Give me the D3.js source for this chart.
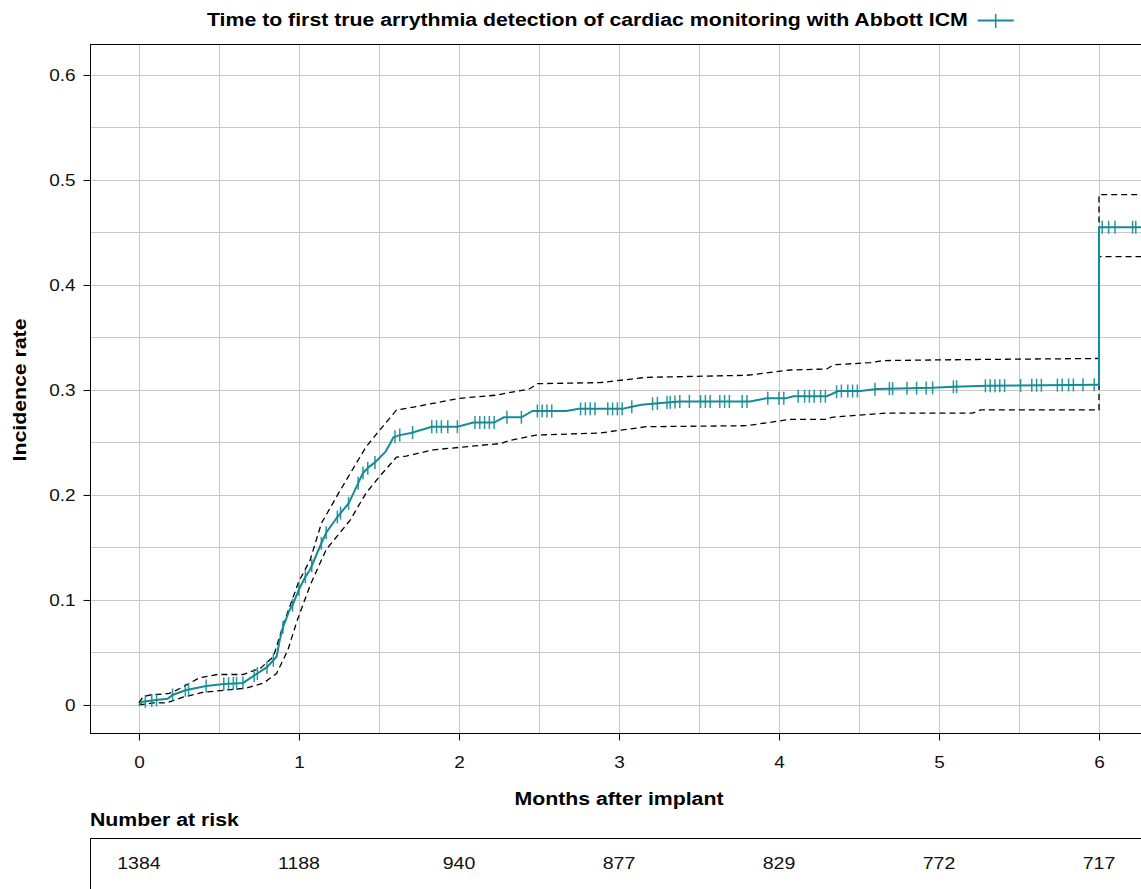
<!DOCTYPE html>
<html>
<head>
<meta charset="utf-8">
<script src="https://cdn.jsdelivr.net/npm/d3@7"></script>
<style>
  body { margin: 0; background: #fff; }
  svg { font-family: "Liberation Sans", Arial, sans-serif; display: block; }
</style>
</head>
<body>
<div id="chart"></div>
<script>
// curve: [months, incidence]
var curve = [[0,0],[0.02,0.003],[0.12,0.005],[0.18,0.006],[0.21,0.0095],[0.29,0.014],[0.42,0.018],[0.53,0.020],
  [0.65,0.021],[0.71,0.027],[0.8,0.036],[0.86,0.046],[0.88,0.062],[0.9,0.074],[0.94,0.09],[0.96,0.095],[1.0,0.110],
  [1.04,0.122],[1.07,0.129],[1.14,0.154],[1.17,0.164],[1.24,0.179],[1.31,0.192],[1.36,0.208],[1.4,0.221],[1.44,0.227],
  [1.475,0.231],[1.54,0.241],[1.57,0.249],[1.59,0.255],[1.63,0.257],[1.7,0.259],[1.83,0.265],[1.99,0.265],[2.09,0.269],
  [2.22,0.269],[2.28,0.274],[2.39,0.274],[2.46,0.280],[2.67,0.280],[2.75,0.282],[3.02,0.282],[3.08,0.284],[3.14,0.286],
  [3.3,0.288],[3.38,0.289],[3.82,0.289],[3.92,0.292],[4.04,0.292],[4.09,0.294],[4.3,0.294],[4.37,0.299],[4.51,0.299],
  [4.61,0.301],[4.96,0.302],[5.09,0.303],[5.3,0.304],[5.99,0.305],[6.0,0.305],[6.0,0.455],[6.4,0.455]];

var upperCI = [[0,0.002],[0.025,0.0076],[0.07,0.0095],[0.19,0.011],[0.26,0.016],[0.38,0.026],[0.49,0.029],[0.65,0.029],
  [0.76,0.035],[0.84,0.046],[0.91,0.08],[1.0,0.118],[1.07,0.138],[1.14,0.173],[1.26,0.205],[1.42,0.246],[1.49,0.259],
  [1.61,0.281],[1.69,0.283],[2.0,0.292],[2.23,0.295],[2.44,0.301],[2.49,0.306],[2.88,0.307],[3.17,0.312],[3.8,0.314],
  [4.07,0.319],[4.3,0.320],[4.34,0.324],[4.57,0.326],[4.65,0.328],[5.21,0.329],[6.0,0.330],[6.0,0.486],[6.4,0.486]];

var lowerCI = [[0,0],[0.09,0.002],[0.17,0.002],[0.28,0.0076],[0.4,0.012],[0.53,0.014],[0.67,0.016],[0.78,0.021],
  [0.86,0.030],[0.93,0.052],[0.99,0.081],[1.07,0.114],[1.17,0.148],[1.32,0.176],[1.42,0.202],[1.5,0.217],[1.61,0.236],
  [1.67,0.237],[1.84,0.243],[2.26,0.249],[2.32,0.252],[2.48,0.257],[2.88,0.259],[3.17,0.265],[3.8,0.266],[4.07,0.272],
  [4.3,0.272],[4.33,0.274],[4.67,0.278],[5.21,0.278],[5.26,0.281],[6.0,0.281],[6.0,0.427],[6.4,0.427]];

// censored times (months)
var censorTimes = [0.04,0.08,0.11,0.21,0.29,0.31,0.42,0.53,0.56,0.59,0.61,0.65,0.72,0.74,0.8,0.84,0.9,0.96,1.0,1.04,
  1.08,1.14,1.17,1.24,1.26,1.31,1.37,1.40,1.43,1.475,1.6,1.63,1.71,1.83,1.86,1.89,1.93,1.99,2.1,2.13,2.16,2.19,2.22,
  2.3,2.39,2.49,2.52,2.55,2.58,2.76,2.79,2.82,2.85,2.93,2.96,2.99,3.02,3.08,3.21,3.24,3.3,3.32,3.35,3.38,3.44,3.51,
  3.54,3.57,3.63,3.66,3.69,3.77,3.8,3.93,4.0,4.03,4.12,4.16,4.19,4.22,4.26,4.29,4.36,4.39,4.43,4.46,4.49,4.6,4.69,
  4.71,4.8,4.86,4.92,4.96,5.09,5.11,5.29,5.32,5.35,5.38,5.41,5.51,5.58,5.61,5.64,5.74,5.77,5.81,5.84,5.9,5.97,
  6.02,6.06,6.1,6.21,6.23];

var xTicks = [0,1,2,3,4,5,6];
var yTicks = [0,0.1,0.2,0.3,0.4,0.5,0.6];
var atRisk = [1384,1188,940,877,829,772,717];

var titleText = "Time to first true arrythmia detection of cardiac monitoring with Abbott ICM";
var teal = "#148c96";
var sx = 1.15; // glyphs in the reference are a bit wider than Liberation Sans

var svgWidth = 1141, svgHeight = 889;
var margin = {top: 44, left: 90};
var plotRight = 1170, plotBottom = 733;

var svg = d3.select("#chart").append("svg")
  .attr("width", svgWidth).attr("height", svgHeight);

var x = d3.scaleLinear().domain([-0.306, (plotRight - 139) / 160]).range([margin.left, plotRight]);
var y = d3.scaleLinear().domain([-0.0267, 0.6295]).range([plotBottom, margin.top]);

// grid
var gridX = d3.range(0, 7, 0.5);
var gridY = d3.range(0, 0.65, 0.05);
var grid = svg.append("g").attr("stroke", "#c8c8c8").attr("stroke-width", 1);
grid.selectAll(".gx").data(gridX).enter().append("line")
  .attr("x1", d => Math.round(x(d)) + 0.5).attr("x2", d => Math.round(x(d)) + 0.5)
  .attr("y1", margin.top).attr("y2", plotBottom);
grid.selectAll(".gy").data(gridY).enter().append("line")
  .attr("y1", d => Math.round(y(d)) + 0.5).attr("y2", d => Math.round(y(d)) + 0.5)
  .attr("x1", margin.left).attr("x2", plotRight);

// border
svg.append("rect")
  .attr("x", margin.left + 0.5).attr("y", margin.top + 0.5)
  .attr("width", plotRight - margin.left).attr("height", plotBottom - margin.top)
  .attr("fill", "none").attr("stroke", "#000").attr("stroke-width", 1);

// axes
var bottomAxis = d3.axisBottom(x).tickValues(xTicks).tickFormat(d3.format("d")).tickSize(7).tickPadding(10);
var leftAxis = d3.axisLeft(y).tickValues(yTicks).tickFormat(d => d === 0 ? "0" : d3.format(".1f")(d)).tickSize(7);

var xAxis = svg.append("g").attr("transform", `translate(0, ${plotBottom + 0.5})`).call(bottomAxis);
var yAxis = svg.append("g").attr("transform", `translate(${margin.left + 0.5}, 0)`).call(leftAxis);
[xAxis, yAxis].forEach(function(a) {
  a.select(".domain").remove();
  a.selectAll("text").attr("font-size", "16.5px").attr("fill", "#111")
    .attr("font-family", "Liberation Sans, Arial, sans-serif");
  a.selectAll("line").attr("stroke", "#000");
});
xAxis.selectAll("text").attr("y", 0).attr("dy", 0)
  .attr("transform", `translate(0, 34) scale(${sx}, 1)`);
yAxis.selectAll("text").attr("x", 0).attr("dy", "0.36em")
  .attr("transform", `translate(-15, 0) scale(${sx}, 1)`);

// clip plot area
svg.append("clipPath").attr("id", "clip").append("rect")
  .attr("x", margin.left).attr("y", margin.top)
  .attr("width", plotRight - margin.left).attr("height", plotBottom - margin.top);
var plot = svg.append("g").attr("clip-path", "url(#clip)");

var line = d3.line().x(d => x(d[0])).y(d => y(d[1]));

plot.append("path").datum(upperCI).attr("d", line)
  .attr("fill", "none").attr("stroke", "#000").attr("stroke-width", 1.3).attr("stroke-dasharray", "6,4");
plot.append("path").datum(lowerCI).attr("d", line)
  .attr("fill", "none").attr("stroke", "#000").attr("stroke-width", 1.3).attr("stroke-dasharray", "6,4");

plot.append("path").datum(curve).attr("d", line)
  .attr("fill", "none").attr("stroke", teal).attr("stroke-width", 2);

// value of curve at time t (before any jump at same time)
function curveAt(t) {
  for (var i = 1; i < curve.length; i++) {
    if (curve[i][0] >= t) {
      var a = curve[i - 1], b = curve[i];
      if (b[0] === a[0]) return a[1];
      return a[1] + (b[1] - a[1]) * (t - a[0]) / (b[0] - a[0]);
    }
  }
  return curve[curve.length - 1][1];
}
function curveAfter(t) {
  return t > 6 ? curve[curve.length - 1][1] : curveAt(t);
}

plot.selectAll(".censor").data(censorTimes).enter().append("line")
  .attr("x1", d => x(d)).attr("x2", d => x(d))
  .attr("y1", d => y(curveAfter(d)) - 6.5).attr("y2", d => y(curveAfter(d)) + 6.5)
  .attr("stroke", teal).attr("stroke-width", 1.5).attr("opacity", 0.9);

// stretched text helper
function label(px, py, txt, size, anchor, rot) {
  return svg.append("text")
    .attr("transform", `translate(${px}, ${py})` + (rot ? ` rotate(${rot})` : "") + ` scale(${sx}, 1)`)
    .attr("text-anchor", anchor || "start")
    .attr("font-size", size + "px").attr("font-weight", "bold").attr("fill", "#000")
    .text(txt);
}

// title and legend
var title = label(207, 26, titleText, 18.5, "start");
var tw = title.node().getComputedTextLength() * sx;
var lx = 207 + tw + 10;
svg.append("line").attr("x1", lx).attr("x2", lx + 36).attr("y1", 20.5).attr("y2", 20.5)
  .attr("stroke", teal).attr("stroke-width", 2);
svg.append("line").attr("x1", lx + 18).attr("x2", lx + 18).attr("y1", 14).attr("y2", 28)
  .attr("stroke", teal).attr("stroke-width", 1.5);

// axis titles
label(x(3), 805, "Months after implant", 18.5, "middle");
label(26, 390, "Incidence rate", 18.5, "middle", -90);

// number at risk table
label(90, 826, "Number at risk", 18.5, "start");
svg.append("path")
  .attr("d", `M${margin.left + 0.5},${svgHeight} V838.5 H${svgWidth}`)
  .attr("fill", "none").attr("stroke", "#000").attr("stroke-width", 1);
svg.selectAll(".risk").data(atRisk).enter().append("text")
  .attr("transform", (d, i) => `translate(${x(xTicks[i])}, 869) scale(${sx}, 1)`)
  .attr("text-anchor", "middle").attr("font-size", "17px").attr("fill", "#111")
  .text(d => d);
</script>
</body>
</html>
